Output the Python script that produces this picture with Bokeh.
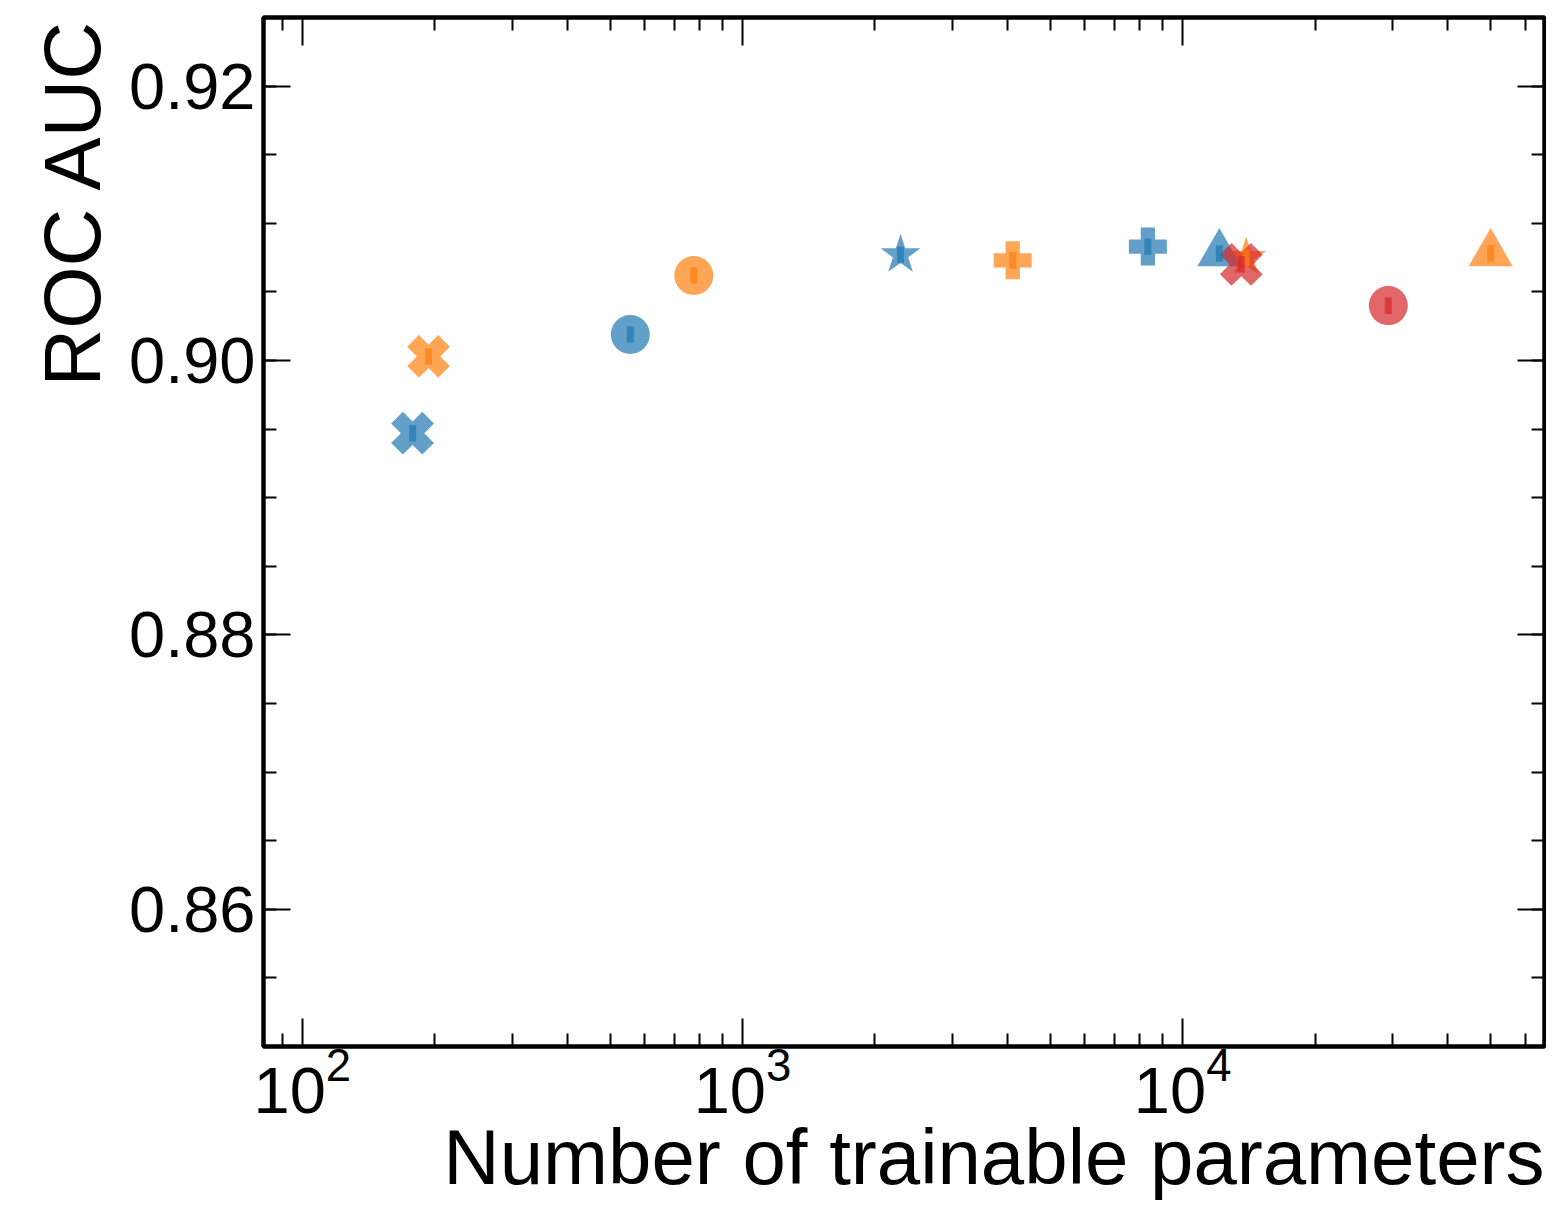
from bokeh.plotting import figure
from bokeh.models import (ColumnDataSource, LogAxis, LinearAxis, FixedTicker, Range1d,
                          PrintfTickFormatter, Title)
from bokeh.embed import file_html
from bokeh.resources import INLINE

# ---- data ----
group = ["blue", "blue", "blue", "blue", "blue",
         "orange", "orange", "orange", "orange", "orange",
         "red", "red"]
marker_kind = ["X", "circle", "star", "plus", "triangle",
               "X", "circle", "plus", "star", "triangle",
               "X", "circle"]
n_params = [178, 556, 2286, 8337, 12118,
            193.5, 775, 4111, 13945, 50100,
            13590, 29330]
roc_auc = [0.8947, 0.9019, 0.9077, 0.9083, 0.9078,
           0.9003, 0.9062, 0.9073, 0.9075, 0.9078,
           0.9070, 0.9040]
roc_auc_err = [0.0006, 0.0006, 0.0006, 0.0006, 0.0006,
               0.0006, 0.0006, 0.0006, 0.0006, 0.0006,
               0.0006, 0.0006]

y_major = [0.86, 0.88, 0.90, 0.92]
y_minor = [0.85, 0.855, 0.86, 0.865, 0.87, 0.875, 0.88, 0.885, 0.89, 0.895,
           0.90, 0.905, 0.91, 0.915, 0.92, 0.925]
x_major = [100, 1000, 10000]
x_minor = [90, 200, 300, 400, 500, 600, 700, 800, 900,
           2000, 3000, 4000, 5000, 6000, 7000, 8000, 9000,
           20000, 30000, 40000, 50000, 60000]
x_title = "Number of trainable parameters"
y_title = "ROC AUC"

# ---- styling ----
palette = {"blue": "#1f77b4", "orange": "#ff7f0e", "red": "#d62728"}
bokeh_marker = {"X": "plus", "circle": "circle", "star": "star",
                "plus": "plus", "triangle": "triangle"}
marker_angle = {"X": 0.785398, "circle": 0.0, "star": 0.0, "plus": 0.0, "triangle": 0.0}
marker_size = {"X": 44, "circle": 39, "star": 42, "plus": 38, "triangle": 44}

FONT = "Liberation Sans"

src = ColumnDataSource(dict(
    x=n_params,
    y=roc_auc,
    lo=[a - e for a, e in zip(roc_auc, roc_auc_err)],
    hi=[a + e for a, e in zip(roc_auc, roc_auc_err)],
    color=[palette[g] for g in group],
    marker=[bokeh_marker[m] for m in marker_kind],
    angle=[marker_angle[m] for m in marker_kind],
    size=[marker_size[m] for m in marker_kind],
))

W, H = 1546, 1200
p = figure(width=W, height=H, x_axis_type="log",
           x_range=Range1d(81.6, 66400), y_range=Range1d(0.85, 0.925),
           output_backend="svg", toolbar_location=None,
           min_border_left=263, min_border_right=2,
           min_border_top=17, min_border_bottom=154)
p.grid.visible = False
p.background_fill_color = "white"
p.border_fill_color = "white"
p.outline_line_color = "black"
p.outline_line_width = 4.5

p.scatter("x", "y", source=src, marker="marker", size="size", angle="angle",
          fill_color="color", line_color=None, fill_alpha=0.7)
p.segment(x0="x", y0="lo", x1="x", y1="hi", source=src,
          line_color="color", line_width=7, line_alpha=0.7, line_cap="butt")


def style_axis(ax, show_labels, major_len, minor_len):
    ax.axis_line_color = None
    ax.major_tick_in = major_len
    ax.major_tick_out = 0
    ax.minor_tick_in = minor_len
    ax.minor_tick_out = 0
    ax.major_tick_line_width = 2
    ax.minor_tick_line_width = 2
    ax.major_tick_line_color = "black"
    ax.minor_tick_line_color = "black"
    if show_labels:
        ax.major_label_text_font = FONT
        ax.major_label_text_font_size = "65px"
        ax.major_label_text_color = "black"
    else:
        ax.major_label_text_font_size = "1px"
        ax.major_label_text_alpha = 0
        ax.major_label_standoff = 0


xt = FixedTicker(ticks=x_major, minor_ticks=x_minor)
yt = FixedTicker(ticks=y_major, minor_ticks=y_minor)

xa = p.xaxis[0]
xa.ticker = xt
style_axis(xa, True, 28, 13)
xa.major_label_standoff = 0

ya = p.yaxis[0]
ya.ticker = yt
ya.formatter = PrintfTickFormatter(format="%.2f")
style_axis(ya, True, 27, 13)
ya.major_label_standoff = 8

p.add_layout(Title(text=x_title, align="right", text_font=FONT,
                   text_font_size="78px", text_font_style="normal",
                   text_color="black", standoff=-10), "below")
p.add_layout(Title(text=y_title, align="right", text_font=FONT,
                   text_font_size="80px", text_font_style="normal",
                   text_color="black", standoff=18), "left")

top = LogAxis(ticker=FixedTicker(ticks=x_major, minor_ticks=x_minor))
style_axis(top, False, 28, 13)
p.add_layout(top, "above")

right = LinearAxis(ticker=FixedTicker(ticks=y_major, minor_ticks=y_minor))
style_axis(right, False, 27, 13)
p.add_layout(right, "right")

open("out.html", "w").write(file_html(p, INLINE))
